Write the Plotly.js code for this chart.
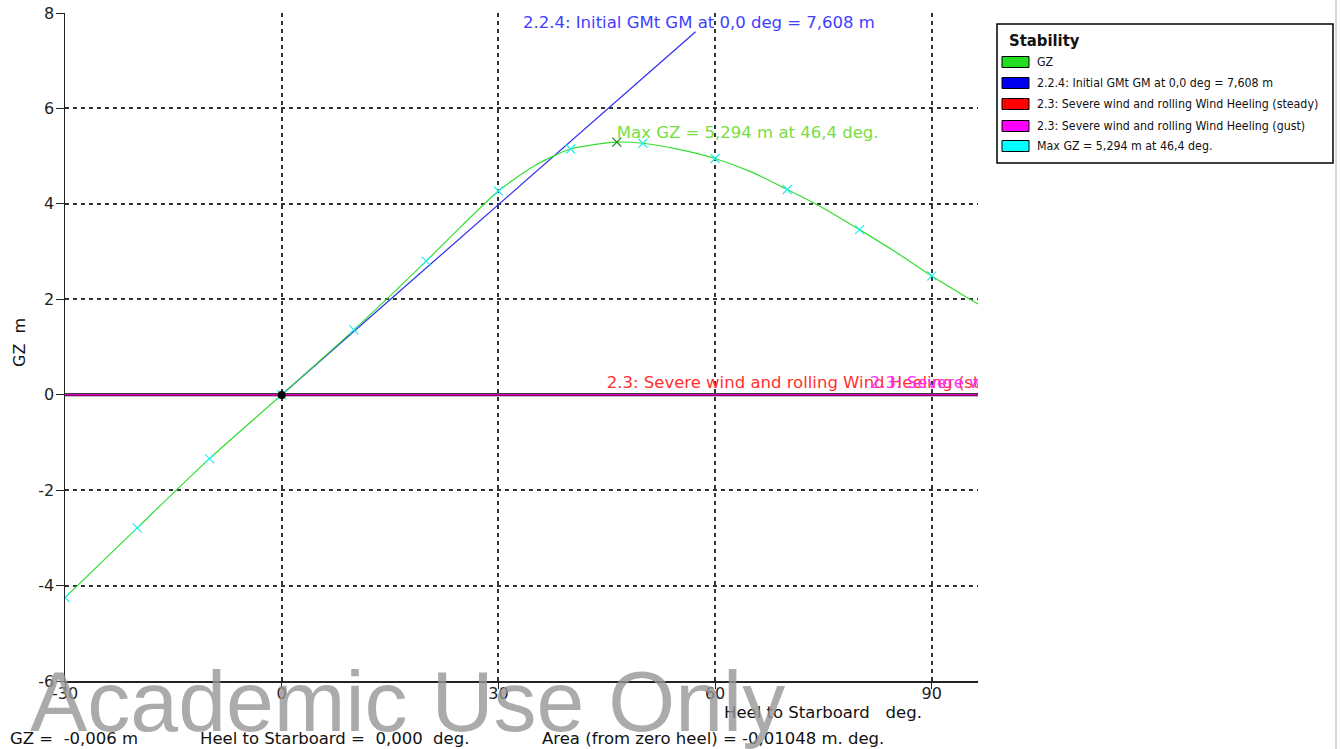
<!DOCTYPE html>
<html>
<head>
<meta charset="utf-8">
<script src="https://cdn.plot.ly/plotly-3.0.1.min.js"></script>
<style>html,body{margin:0;padding:0;background:#fff;}#chart{width:1341px;height:749px;}</style>
</head>
<body>
<div id="chart"></div>
<script>
// ---- data ----
var heelDeg = [-30, -20, -10, 0, 10, 20, 25, 30, 35, 40, 46.4, 50, 55, 60, 65, 70, 75, 80, 85, 90, 96.4];
var gzValues = [-4.25, -2.79, -1.34, 0, 1.36, 2.80, 3.55, 4.27, 4.80, 5.15, 5.294, 5.27, 5.14, 4.95, 4.67, 4.30, 3.91, 3.46, 2.99, 2.49, 1.90];
var markHeel = [-30, -20, -10, 0, 10, 20, 30, 40, 50, 60, 70, 80, 90];
var markGZ = [-4.25, -2.79, -1.34, 0, 1.36, 2.80, 4.27, 5.15, 5.27, 4.95, 4.30, 3.46, 2.49];
var gmHeel = [0, 57.3];
var gmGZ = [0, 7.608];
var heelRange = [-30, 96.4];
var windSteady = [0, 0];
var windGust = [0, 0];
var maxHeel = [46.4];
var maxGZ = [5.294];
var cursorHeel = [0];
var cursorGZ = [-0.006];
var xTicks = [-30, 0, 30, 60, 90];
var yTicks = [-6, -4, -2, 0, 2, 4, 6, 8];
var legendTitle = "Stability";
var legendNames = ["GZ", "2.2.4: Initial GMt GM at 0,0 deg = 7,608 m",
  "2.3: Severe wind and rolling Wind Heeling (steady)",
  "2.3: Severe wind and rolling Wind Heeling (gust)",
  "Max GZ = 5,294 m at 46,4 deg."];
var legendColors = ["#22dd22", "#0000ee", "#ff0000", "#ff00ff", "#00ffff"];
var gmLabel = "2.2.4: Initial GMt GM at 0,0 deg = 7,608 m";
var maxLabel = "Max GZ = 5,294 m at 46,4 deg.";
var steadyLabel = "2.3: Severe wind and rolling Wind Heeling (steady)";
var gustLabel = "2.3: Severe wind and rolling Wind Heeling (gust)";
var steadyLabelHeel = 45.0;
var gustLabelHeel = 81.4;
var gmLabelHeel = 33.4;
var statusTexts = ["GZ =  -0,006 m", "Heel to Starboard =  0,000  deg.", "Area (from zero heel) = -0,01048 m. deg."];

// ---- layout helpers (pixel -> paper) ----
var L = 65, R = 978, T = 13, B = 681;
function X(px){ return (px - L) / (R - L); }
function Y(py){ return (B - py) / (B - T); }
function nb(s){ return s.replace(/ /g, "\u00a0"); }

var fontMain = "DejaVu Sans, Liberation Sans, Arial, sans-serif";
var fontArial = "Liberation Sans, Arial, sans-serif";
var fontNarrow = "DejaVu Sans Condensed, Liberation Sans Narrow, sans-serif";

var traces = [
  {x: heelRange, y: [0, 0], mode: "lines", line: {color: "#000000", width: 3}, hoverinfo: "skip"},
  {x: heelRange, y: windSteady, mode: "lines", line: {color: "#ff0000", width: 1.5}},
  {x: heelRange, y: windGust, mode: "lines", line: {color: "#cc00cc", width: 1.5}},
  {x: gmHeel, y: gmGZ, mode: "lines", line: {color: "#2a2aee", width: 1.2}},
  {x: heelDeg, y: gzValues, mode: "lines", line: {color: "#33dd33", width: 1.2, shape: "spline", smoothing: 0.7}},
  {x: markHeel, y: markGZ, mode: "markers", marker: {symbol: "x-thin", size: 9, line: {color: "#22eeee", width: 1.2}}},
  {x: maxHeel, y: maxGZ, mode: "markers", marker: {symbol: "x-thin", size: 9, line: {color: "#118811", width: 1.2}}},
  {x: cursorHeel, y: cursorGZ, mode: "markers", marker: {symbol: "circle", size: 8, color: "#000000"}},
  {x: [gmLabelHeel], y: [gmGZ[1]], mode: "text", text: [gmLabel], textposition: "top right",
   textfont: {family: fontMain, size: 16.5, color: "#4040ff"}, cliponaxis: true},
  {x: maxHeel, y: maxGZ, mode: "text", text: [maxLabel], textposition: "top right",
   textfont: {family: fontMain, size: 16.5, color: "#77dd44"}, cliponaxis: true},
  {x: [steadyLabelHeel], y: [0.05], mode: "text", text: [steadyLabel], textposition: "top right",
   textfont: {family: fontMain, size: 16.5, color: "#ff3030"}, cliponaxis: true},
  {x: [gustLabelHeel], y: [0.05], mode: "text", text: [gustLabel], textposition: "top right",
   textfont: {family: fontMain, size: 16.5, color: "#ff30ff"}, cliponaxis: true}
];

var shapes = [
  {type: "rect", xref: "paper", yref: "paper", x0: X(997), x1: X(1333), y0: Y(24), y1: Y(163),
   line: {color: "#000", width: 1.5}, fillcolor: "rgba(0,0,0,0)"},
  {type: "line", xref: "paper", yref: "paper", x0: X(1336), x1: X(1336), y0: Y(0), y1: Y(749),
   line: {color: "#d8d8d8", width: 2}}
];
var rowY = [62, 83, 104, 126, 146];
var annotations = [];
for (var i = 0; i < legendNames.length; i++) {
  shapes.push({type: "rect", xref: "paper", yref: "paper", x0: X(1002), x1: X(1029),
    y0: Y(rowY[i] + 5.5), y1: Y(rowY[i] - 5.5), line: {color: "#000", width: 1}, fillcolor: legendColors[i]});
  annotations.push({xref: "paper", yref: "paper", x: X(1035), y: Y(rowY[i]), xanchor: "left", yanchor: "middle",
    text: legendNames[i], showarrow: false, font: {family: fontNarrow, size: 12.3, color: "#111"}});
}
annotations.push({xref: "paper", yref: "paper", x: X(1007), y: Y(40), xanchor: "left", yanchor: "middle",
  text: "<b>" + legendTitle + "</b>", showarrow: false, font: {family: fontNarrow, size: 16.5, color: "#111"}});
annotations.push({xref: "paper", yref: "paper", x: X(823), y: Y(712), xanchor: "center", yanchor: "middle",
  text: nb("Heel to Starboard   deg."), showarrow: false, font: {family: fontMain, size: 16.5, color: "#111"}});
annotations.push({xref: "paper", yref: "paper", x: X(20), y: Y(343), xanchor: "center", yanchor: "middle",
  text: nb("GZ  m"), textangle: -90, showarrow: false, font: {family: fontMain, size: 16, color: "#111"}});
var statusX = [8, 198, 540];
for (var j = 0; j < statusTexts.length; j++) {
  annotations.push({xref: "paper", yref: "paper", x: X(statusX[j]), y: Y(738), xanchor: "left", yanchor: "middle",
    text: nb(statusTexts[j]), showarrow: false, font: {family: fontMain, size: 16.5, color: "#111"}});
}
annotations.push({xref: "paper", yref: "paper", x: X(407), y: Y(701), xanchor: "center", yanchor: "middle",
  text: "Academic Use Only", showarrow: false, font: {family: fontArial, size: 86, color: "rgba(150,150,150,0.8)"}});

var layout = {
  width: 1341, height: 749,
  margin: {l: L, r: 1341 - R, t: T, b: 749 - B, pad: 0},
  paper_bgcolor: "#ffffff", plot_bgcolor: "#ffffff",
  showlegend: false,
  xaxis: {range: heelRange, tickvals: xTicks, ticktext: xTicks.map(String), showgrid: true,
    gridcolor: "#333", griddash: "4px,4px", gridwidth: 2, zeroline: false,
    showline: true, linecolor: "#222", linewidth: 1.5, ticks: "outside", ticklen: 6, tickcolor: "#222",
    ticklabelstandoff: -9,
    tickfont: {family: fontMain, size: 16, color: "#222"}},
  yaxis: {range: [-6, 8], tickvals: yTicks, ticktext: yTicks.map(String), showgrid: true,
    gridcolor: "#333", griddash: "4px,4px", gridwidth: 2, zeroline: false,
    showline: true, linecolor: "#222", linewidth: 1.5, ticks: "outside", ticklen: 8, tickcolor: "#222",
    ticklabelstandoff: -2,
    tickfont: {family: fontMain, size: 16, color: "#222"}},
  shapes: shapes,
  annotations: annotations
};

Plotly.newPlot("chart", traces, layout, {staticPlot: true, displayModeBar: false});
</script>
</body>
</html>
